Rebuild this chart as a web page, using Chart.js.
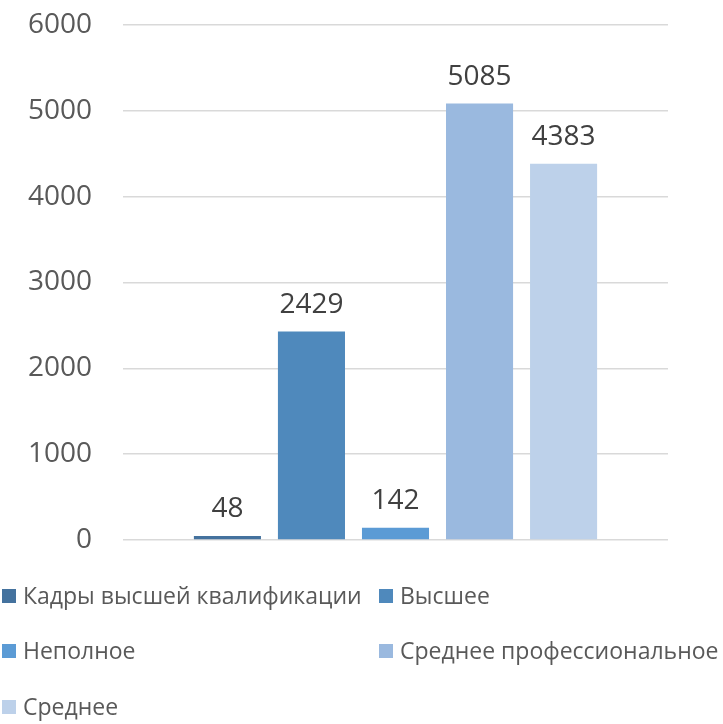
<!DOCTYPE html>
<html>
<head>
<meta charset="utf-8">
<script src="https://cdn.jsdelivr.net/npm/chart.js@4/dist/chart.umd.min.js"></script>
<style>
  html, body { margin: 0; padding: 0; background: #ffffff; }
  #wrap { width: 723px; height: 724px; position: relative; }
</style>
</head>
<body>
<div id="wrap"><canvas id="c" width="723" height="724"></canvas></div>
<script>
const categories = [''];
const seriesNames = ['Кадры высшей квалификации', 'Высшее', 'Неполное', 'Среднее профессиональное', 'Среднее'];
const seriesValues = [48, 2429, 142, 5085, 4383];
const seriesColors = ['#44729e', '#4f89bc', '#5b9bd5', '#9ab9df', '#bdd1ea'];
const yTicks = [0, 1000, 2000, 3000, 4000, 5000, 6000];

const FONT = "'Open Sans', 'Noto Sans', 'DejaVu Sans', sans-serif";

const valueLabels = {
  id: 'valueLabels',
  afterDatasetsDraw(chart) {
    const ctx = chart.ctx;
    ctx.save();
    ctx.font = '28px ' + FONT;
    ctx.fillStyle = '#404040';
    ctx.textAlign = 'center';
    ctx.textBaseline = 'alphabetic';
    chart.data.datasets.forEach((ds, i) => {
      const meta = chart.getDatasetMeta(i);
      meta.data.forEach((bar, j) => {
        ctx.fillText(String(ds.data[j]), bar.x, bar.y - 19);
      });
    });
    ctx.restore();
  }
};

const gridLegend = {
  id: 'gridLegend',
  afterDraw(chart) {
    const ctx = chart.ctx;
    const colX = [2, 379];
    const rowY = [596, 651, 707];
    ctx.save();
    ctx.font = '23px ' + FONT;
    ctx.textAlign = 'left';
    ctx.textBaseline = 'middle';
    chart.data.datasets.forEach((ds, i) => {
      const x = colX[i % 2];
      const y = rowY[Math.floor(i / 2)];
      ctx.fillStyle = ds.backgroundColor;
      ctx.fillRect(x, y - 7, 14, 14);
      ctx.fillStyle = '#595959';
      ctx.fillText(ds.label, x + 21, y + 1);
    });
    ctx.restore();
  }
};

new Chart(document.getElementById('c'), {
  type: 'bar',
  data: {
    labels: categories,
    datasets: seriesNames.map((name, i) => ({
      label: name,
      data: [seriesValues[i]],
      backgroundColor: seriesColors[i],
      borderWidth: 0,
      categoryPercentage: 0.771,
      barPercentage: 0.798
    }))
  },
  options: {
    responsive: false,
    animation: false,
    devicePixelRatio: 1,
    layout: { padding: { top: 25, bottom: 184, left: 0, right: 55 } },
    plugins: {
      legend: { display: false },
      tooltip: { enabled: false }
    },
    scales: {
      x: { display: false },
      y: {
        min: 0,
        max: 6000,
        afterFit(scale) { scale.width = 123; },
        afterBuildTicks(scale) { scale.ticks = yTicks.map(v => ({ value: v })); },
        border: { display: false },
        grid: { color: '#d9d9d9', lineWidth: 1.5, drawTicks: true, tickLength: 31, tickColor: 'rgba(0,0,0,0)' },
        ticks: {
          padding: 0,
          color: '#595959',
          font: { family: FONT, size: 28 },
          callback: (v) => String(v)
        }
      }
    }
  },
  plugins: [valueLabels, gridLegend]
});
</script>
</body>
</html>
